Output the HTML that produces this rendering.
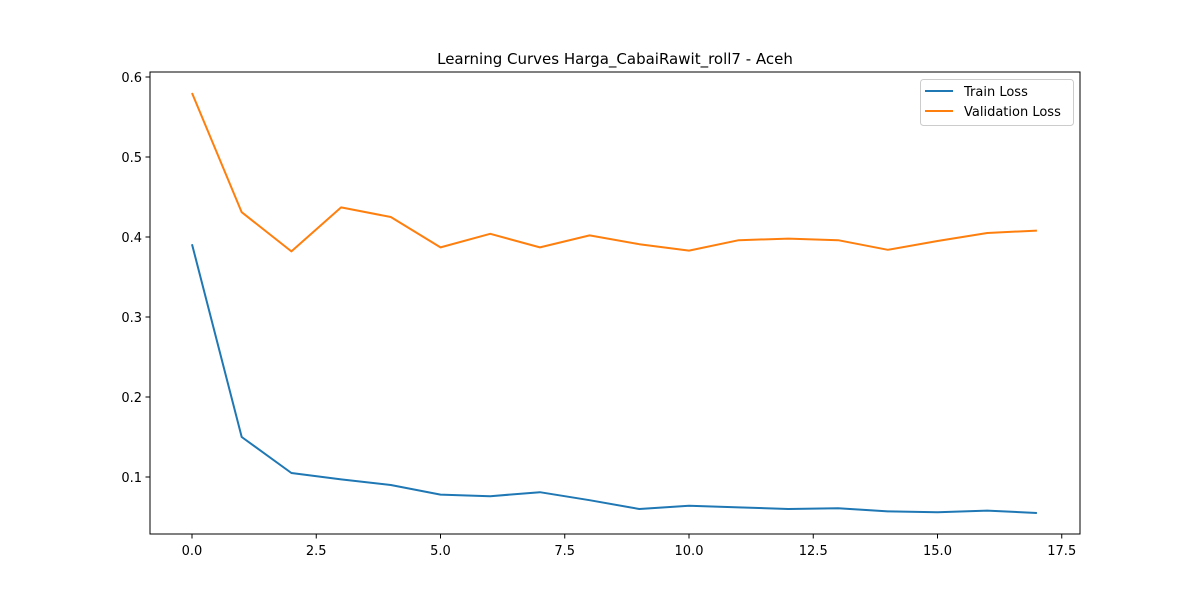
<!DOCTYPE html>
<html><head><meta charset="utf-8"><style>
body{margin:0;background:#fff;}
svg{display:block;font-family:"DejaVu Sans","Liberation Sans",sans-serif;}
</style></head><body>
<svg id="chart" width="1200" height="600">
<rect width="1200" height="600" fill="#fff"/>
<text x="615" y="64" text-anchor="middle" font-size="15">Learning Curves Harga_CabaiRawit_roll7 - Aceh</text>
<g id="grid"></g>
<rect x="150" y="72" width="930" height="462" fill="none" stroke="#000" stroke-width="1"/>
<g id="legend">
<rect x="920.5" y="79.5" width="153" height="46" rx="3" fill="#fff" stroke="#ccc"/>
<line x1="925" y1="91" x2="953" y2="91" stroke="#1f77b4" stroke-width="2"/>
<text x="964" y="96" font-size="13">Train Loss</text>
<line x1="925" y1="111" x2="953" y2="111" stroke="#ff7f0e" stroke-width="2"/>
<text x="964" y="116" font-size="13">Validation Loss</text>
</g>
</svg>
<script>
const epochs=[0,1,2,3,4,5,6,7,8,9,10,11,12,13,14,15,16,17];
const trainLoss=[0.391,0.150,0.105,0.097,0.090,0.078,0.076,0.081,0.071,0.060,0.064,0.062,0.060,0.061,0.057,0.056,0.058,0.055];
const valLoss=[0.580,0.431,0.382,0.437,0.425,0.387,0.404,0.387,0.402,0.391,0.383,0.396,0.398,0.396,0.384,0.395,0.405,0.408];
const xTicks=[0,2.5,5,7.5,10,12.5,15,17.5];
const xTickLabels=["0.0","2.5","5.0","7.5","10.0","12.5","15.0","17.5"];
const yTicks=[0.1,0.2,0.3,0.4,0.5,0.6];
const yTickLabels=["0.1","0.2","0.3","0.4","0.5","0.6"];
const xs=v=>192+v*49.7;
const ys=v=>477-(v-0.1)*800;
const NS="http://www.w3.org/2000/svg";
const svg=document.getElementById('chart');
const g=document.getElementById('grid');
function mk(tag,attrs,parent){const e=document.createElementNS(NS,tag);for(const k in attrs)e.setAttribute(k,attrs[k]);parent.appendChild(e);return e;}
xTicks.forEach((t,i)=>{
  const l=mk('line',{x1:xs(t),x2:xs(t),y1:534,y2:538.5,stroke:'#000'},g);
  
  
  const tx=mk('text',{x:xs(t),y:555,'text-anchor':'middle','font-size':'13'},g);
  tx.textContent=xTickLabels[i];
  
  
});
yTicks.forEach((t,i)=>{
  const l=mk('line',{x1:145.5,x2:150,y1:ys(t),y2:ys(t),stroke:'#000'},g);
  
  
  const tx=mk('text',{x:142,y:ys(t)+5,'text-anchor':'end','font-size':'13'},g);
  tx.textContent=yTickLabels[i];
  
  
});
function line(data,color,name){
  const p=mk('polyline',{points:data.map((v,i)=>xs(epochs[i])+','+ys(v)).join(' '),fill:'none',stroke:color,'stroke-width':2,'stroke-linejoin':'round'},svg);
  
  
}
line(trainLoss,'#1f77b4','train-loss-line');
line(valLoss,'#ff7f0e','validation-loss-line');
svg.appendChild(document.getElementById('legend'));
</script>
</body></html>
